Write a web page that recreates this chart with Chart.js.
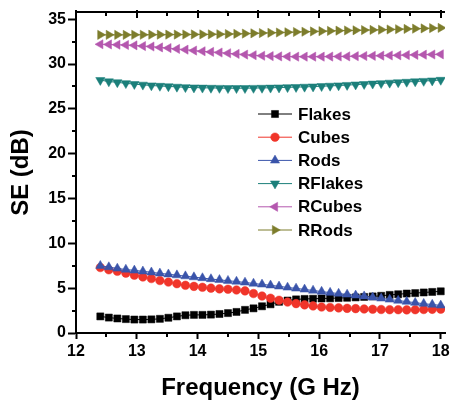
<!DOCTYPE html>
<html>
<head>
<meta charset="utf-8">
<script src="https://cdn.jsdelivr.net/npm/chart.js@4.4.1/dist/chart.umd.min.js"></script>
<style>
  html, body { margin: 0; padding: 0; background: #fff; }
  #wrap { position: relative; width: 455px; height: 400px; }
</style>
</head>
<body>
<div id="wrap"><canvas id="chart"></canvas></div>
<script>
// frequency points (GHz)
const freq = [12.4, 12.54, 12.68, 12.82, 12.96, 13.1, 13.24, 13.38, 13.52, 13.66,
  13.8, 13.94, 14.08, 14.22, 14.36, 14.5, 14.64, 14.78, 14.92, 15.06,
  15.2, 15.34, 15.48, 15.62, 15.76, 15.9, 16.04, 16.18, 16.32, 16.46,
  16.6, 16.74, 16.88, 17.02, 17.16, 17.3, 17.44, 17.58, 17.72, 17.86, 18.0];

const flakes = [1.85, 1.72, 1.62, 1.55, 1.5, 1.5, 1.52, 1.58, 1.7, 1.85,
  1.98, 2.02, 2.02, 2.05, 2.12, 2.22, 2.35, 2.58, 2.75, 2.98,
  3.2, 3.48, 3.62, 3.75, 3.8, 3.82, 3.85, 3.87, 3.9, 3.93,
  3.97, 4.02, 4.08, 4.15, 4.25, 4.32, 4.4, 4.45, 4.52, 4.58, 4.65];
const cubes = [7.3, 7.05, 6.88, 6.68, 6.45, 6.25, 6.07, 5.85, 5.68, 5.5,
  5.32, 5.2, 5.1, 5.0, 4.92, 4.88, 4.8, 4.7, 4.4, 4.12,
  3.88, 3.65, 3.45, 3.28, 3.14, 3.02, 2.9, 2.85, 2.8, 2.75,
  2.72, 2.68, 2.65, 2.62, 2.6, 2.6, 2.58, 2.6, 2.62, 2.64, 2.66];
const rods = [7.5, 7.35, 7.2, 7.08, 6.98, 6.88, 6.77, 6.65, 6.55, 6.45,
  6.34, 6.23, 6.13, 6.02, 5.93, 5.83, 5.74, 5.64, 5.52, 5.42,
  5.32, 5.2, 5.08, 4.97, 4.86, 4.74, 4.62, 4.5, 4.4, 4.3,
  4.2, 4.1, 3.98, 3.86, 3.74, 3.62, 3.5, 3.38, 3.27, 3.17, 3.08];
const rFlakes = [28.2, 28.05, 27.95, 27.85, 27.75, 27.68, 27.6, 27.55, 27.5, 27.45,
  27.4, 27.37, 27.35, 27.33, 27.32, 27.3, 27.3, 27.3, 27.32, 27.33,
  27.35, 27.37, 27.4, 27.42, 27.45, 27.48, 27.52, 27.56, 27.6, 27.65,
  27.7, 27.75, 27.8, 27.85, 27.9, 27.95, 28.0, 28.05, 28.1, 28.15, 28.22];
const rCubes = [32.2, 32.18, 32.15, 32.12, 32.08, 32.0, 31.95, 31.85, 31.78, 31.68,
  31.6, 31.5, 31.42, 31.35, 31.28, 31.2, 31.12, 31.05, 30.98, 30.92,
  30.88, 30.85, 30.83, 30.82, 30.82, 30.82, 30.82, 30.83, 30.84, 30.85,
  30.87, 30.89, 30.91, 30.93, 30.95, 30.97, 31.0, 31.02, 31.04, 31.06, 31.08];
const rRods = [33.25, 33.25, 33.25, 33.25, 33.26, 33.26, 33.27, 33.27, 33.28, 33.28,
  33.29, 33.3, 33.3, 33.31, 33.32, 33.34, 33.36, 33.39, 33.42, 33.45,
  33.48, 33.51, 33.54, 33.57, 33.6, 33.63, 33.66, 33.69, 33.72, 33.74,
  33.76, 33.78, 33.8, 33.82, 33.85, 33.88, 33.91, 33.94, 33.97, 34.0, 34.03];

const seriesNames = ["Flakes", "Cubes", "Rods", "RFlakes", "RCubes", "RRods"];
const seriesValues = [flakes, cubes, rods, rFlakes, rCubes, rRods];
const seriesColors = ["#000000", "#f0352a", "#3a54aa", "#1b7f7a", "#b457ae", "#7d7d2c"];
const seriesStyles = [
  { style: "rect", rotation: 0, radius: 5 },
  { style: "circle", rotation: 0, radius: 4.3 },
  { style: "triangle", rotation: 0, radius: 5.3 },
  { style: "triangle", rotation: 180, radius: 5.3 },
  { style: "triangle", rotation: 270, radius: 5.3 },
  { style: "triangle", rotation: 90, radius: 5.3 },
];

const FONT = "'Liberation Sans', Arial, Helvetica, sans-serif";

const datasets = seriesNames.map((name, i) => ({
  label: name,
  data: freq.map((f, j) => ({ x: f, y: seriesValues[i][j] })),
  borderColor: seriesColors[i],
  backgroundColor: seriesColors[i],
  borderWidth: 1,
  pointStyle: seriesStyles[i].style,
  pointRotation: seriesStyles[i].rotation,
  pointRadius: seriesStyles[i].radius,
  pointBackgroundColor: seriesColors[i],
  pointBorderColor: seriesColors[i],
  pointBorderWidth: 0.5,
  showLine: true,
  tension: 0,
  order: seriesNames.length - i,
}));

// top frame line, minor ticks and inward ticks on top edge
const framePlugin = {
  id: "frame",
  afterDraw(chart) {
    const ctx = chart.ctx;
    const area = chart.chartArea;
    const xs = chart.scales.x;
    const ys = chart.scales.y;
    ctx.save();
    ctx.strokeStyle = "#000";
    ctx.lineWidth = 2;
    ctx.beginPath();
    ctx.moveTo(area.left - 1, area.top);
    ctx.lineTo(area.right, area.top);
    ctx.stroke();

    ctx.beginPath();
    for (let v = 12; v <= 18.001; v += 0.5) {
      const px = Math.round(xs.getPixelForValue(v));
      const major = Math.abs(v - Math.round(v)) < 0.01;
      // top, inward
      ctx.moveTo(px, area.top - (major ? 2 : 0));
      ctx.lineTo(px, area.top + (major ? 6 : 4));
      if (!major) {
        ctx.moveTo(px, area.bottom);
        ctx.lineTo(px, area.bottom + 4);
      }
    }
    for (let v = 2.5; v < 35.5; v += 5) {
      const py = Math.round(ys.getPixelForValue(v));
      ctx.moveTo(area.left, py);
      ctx.lineTo(area.left - 4, py);
    }
    ctx.stroke();
    ctx.restore();
  },
};

// legend drawn inside the plot area
const legendPlugin = {
  id: "insideLegend",
  afterDatasetsDraw(chart) {
    const ctx = chart.ctx;
    ctx.save();
    chart.data.datasets.forEach((ds, i) => {
      const y = 114 + i * 23.2;
      ctx.strokeStyle = ds.borderColor;
      ctx.lineWidth = 1;
      ctx.beginPath();
      ctx.moveTo(258, y);
      ctx.lineTo(292, y);
      ctx.stroke();
      ctx.fillStyle = ds.pointBackgroundColor;
      ctx.strokeStyle = ds.pointBorderColor;
      ctx.lineWidth = 0.5;
      Chart.helpers.drawPoint(ctx, {
        pointStyle: ds.pointStyle,
        rotation: ds.pointRotation,
        radius: ds.pointRadius,
        borderWidth: 0.5,
      }, 275, y);
      ctx.fillStyle = "#000";
      ctx.font = "bold 17px " + FONT;
      ctx.textBaseline = "middle";
      ctx.textAlign = "left";
      ctx.fillText(ds.label, 298, y + 1);
    });
    ctx.restore();
  },
};

new Chart(document.getElementById("chart"), {
  type: "scatter",
  data: { datasets },
  options: {
    responsive: true,
    maintainAspectRatio: false,
    animation: false,
    layout: { padding: { top: 12, right: 10, left: 0, bottom: 0 } },
    plugins: {
      legend: { display: false },
      tooltip: { enabled: false },
    },
    scales: {
      x: {
        type: "linear",
        min: 12,
        max: 18.07,
        afterFit: (scale) => { scale.height = 67; },
        border: { display: true, color: "#000", width: 2 },
        grid: {
          display: true,
          drawOnChartArea: false,
          drawTicks: true,
          tickLength: 6,
          tickWidth: 2,
          tickColor: "#000",
        },
        ticks: {
          stepSize: 1,
          includeBounds: false,
          color: "#000",
          padding: 3,
          maxRotation: 0,
          font: { family: FONT, size: 16, weight: "bold" },
        },
        title: {
          display: true,
          text: "Frequency (G Hz)",
          color: "#000",
          padding: { top: 0, bottom: 0 },
          font: { family: FONT, size: 24, weight: "bold", lineHeight: 1 },
        },
      },
      y: {
        type: "linear",
        min: 0,
        max: 35.8,
        afterFit: (scale) => { scale.width = 76; },
        border: { display: true, color: "#000", width: 2 },
        grid: {
          display: true,
          drawOnChartArea: false,
          drawTicks: true,
          tickLength: 8,
          tickWidth: 2,
          tickColor: "#000",
        },
        ticks: {
          stepSize: 5,
          includeBounds: false,
          color: "#000",
          padding: 2,
          font: { family: FONT, size: 16, weight: "bold" },
        },
        title: {
          display: true,
          text: "SE (dB)",
          color: "#000",
          padding: { top: 9, bottom: 0 },
          font: { family: FONT, size: 24, weight: "bold", lineHeight: 1 },
        },
      },
    },
  },
  plugins: [framePlugin, legendPlugin],
});
</script>
</body>
</html>
